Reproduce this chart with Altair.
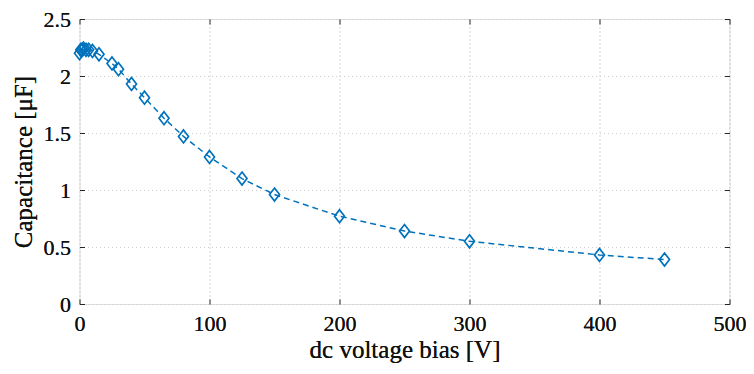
import altair as alt
import pandas as pd

voltage = [0, 1, 2, 3, 5, 7, 10, 15, 25, 30, 40, 50, 65, 80, 100, 125, 150, 200, 250, 300, 400, 450]
capacitance = [2.20, 2.23, 2.23, 2.24, 2.23, 2.23, 2.22, 2.19, 2.11, 2.06, 1.93, 1.81, 1.63, 1.47,
               1.29, 1.10, 0.96, 0.77, 0.64, 0.55, 0.43, 0.39]
x_ticks = [0, 100, 200, 300, 400, 500]
y_ticks = [0, 0.5, 1, 1.5, 2, 2.5]

df = pd.DataFrame({"V": voltage, "C": capacitance})

BLUE = "#0072BD"
FONT = "Liberation Serif"
xscale = alt.Scale(domain=[0, 500], nice=False, zero=False)
yscale = alt.Scale(domain=[0, 2.5], nice=False, zero=False)

base = alt.Chart(df)

x_main = alt.X("V:Q", scale=xscale, title="dc voltage bias [V]",
               axis=alt.Axis(orient="bottom", values=x_ticks, grid=True,
                             gridDash=[1, 3], gridColor="#cfcfcf", domain=False, ticks=False,
                             tickSize=0, labelPadding=9, labelFont=FONT, labelFontSize=22,
                             labelColor="#111", titleFont=FONT, titleFontSize=25,
                             titleFontWeight="normal", titleColor="#111", titlePadding=3,
                             labelFlush=False))
y_main = alt.Y("C:Q", scale=yscale, title="Capacitance [μF]",
               axis=alt.Axis(orient="left", values=y_ticks, format="~g", grid=True,
                             gridDash=[1, 3], gridColor="#cfcfcf", domain=False, ticks=False,
                             tickSize=0, labelPadding=9, labelFont=FONT, labelFontSize=22,
                             labelColor="#111", titleFont=FONT, titleFontSize=25,
                             titleFontWeight="normal", titleColor="#111", titlePadding=7,
                             labelFlush=False))

line = base.mark_line(color=BLUE, strokeWidth=1.5, strokeDash=[6, 4]).encode(x=x_main, y=y_main)
pts = base.mark_point(shape="M0,-1L0.77,0L0,1L-0.77,0Z", size=169, filled=False,
                      color=BLUE, strokeWidth=1.7, opacity=1).encode(x=x_main, y=y_main)


def tick_axis(orient, values):
    return alt.Axis(orient=orient, offset=-5, tickSize=5, tickColor="#262626", tickWidth=1,
                    labels=False, grid=False, domain=False, title=None, values=values)


ticks_bl = base.mark_point(opacity=0).encode(
    x=alt.X("V:Q", scale=xscale, axis=tick_axis("bottom", x_ticks)),
    y=alt.Y("C:Q", scale=yscale, axis=tick_axis("left", y_ticks)),
)
ticks_tr = base.mark_point(opacity=0).encode(
    x=alt.X("V:Q", scale=xscale, axis=tick_axis("top", x_ticks)),
    y=alt.Y("C:Q", scale=yscale, axis=tick_axis("right", y_ticks)),
)

chart = alt.layer(line, pts, ticks_bl, ticks_tr).resolve_axis(
    x="independent", y="independent"
).properties(
    width=650, height=285,
    autosize=alt.AutoSizeParams(type="none"),
    padding={"left": 71.5, "top": 11, "right": 16.5, "bottom": 62},
).configure_view(
    stroke="#262626", strokeWidth=1
).configure(background="white")

chart.save("out.html", embed_options={"renderer": "svg", "actions": False})
